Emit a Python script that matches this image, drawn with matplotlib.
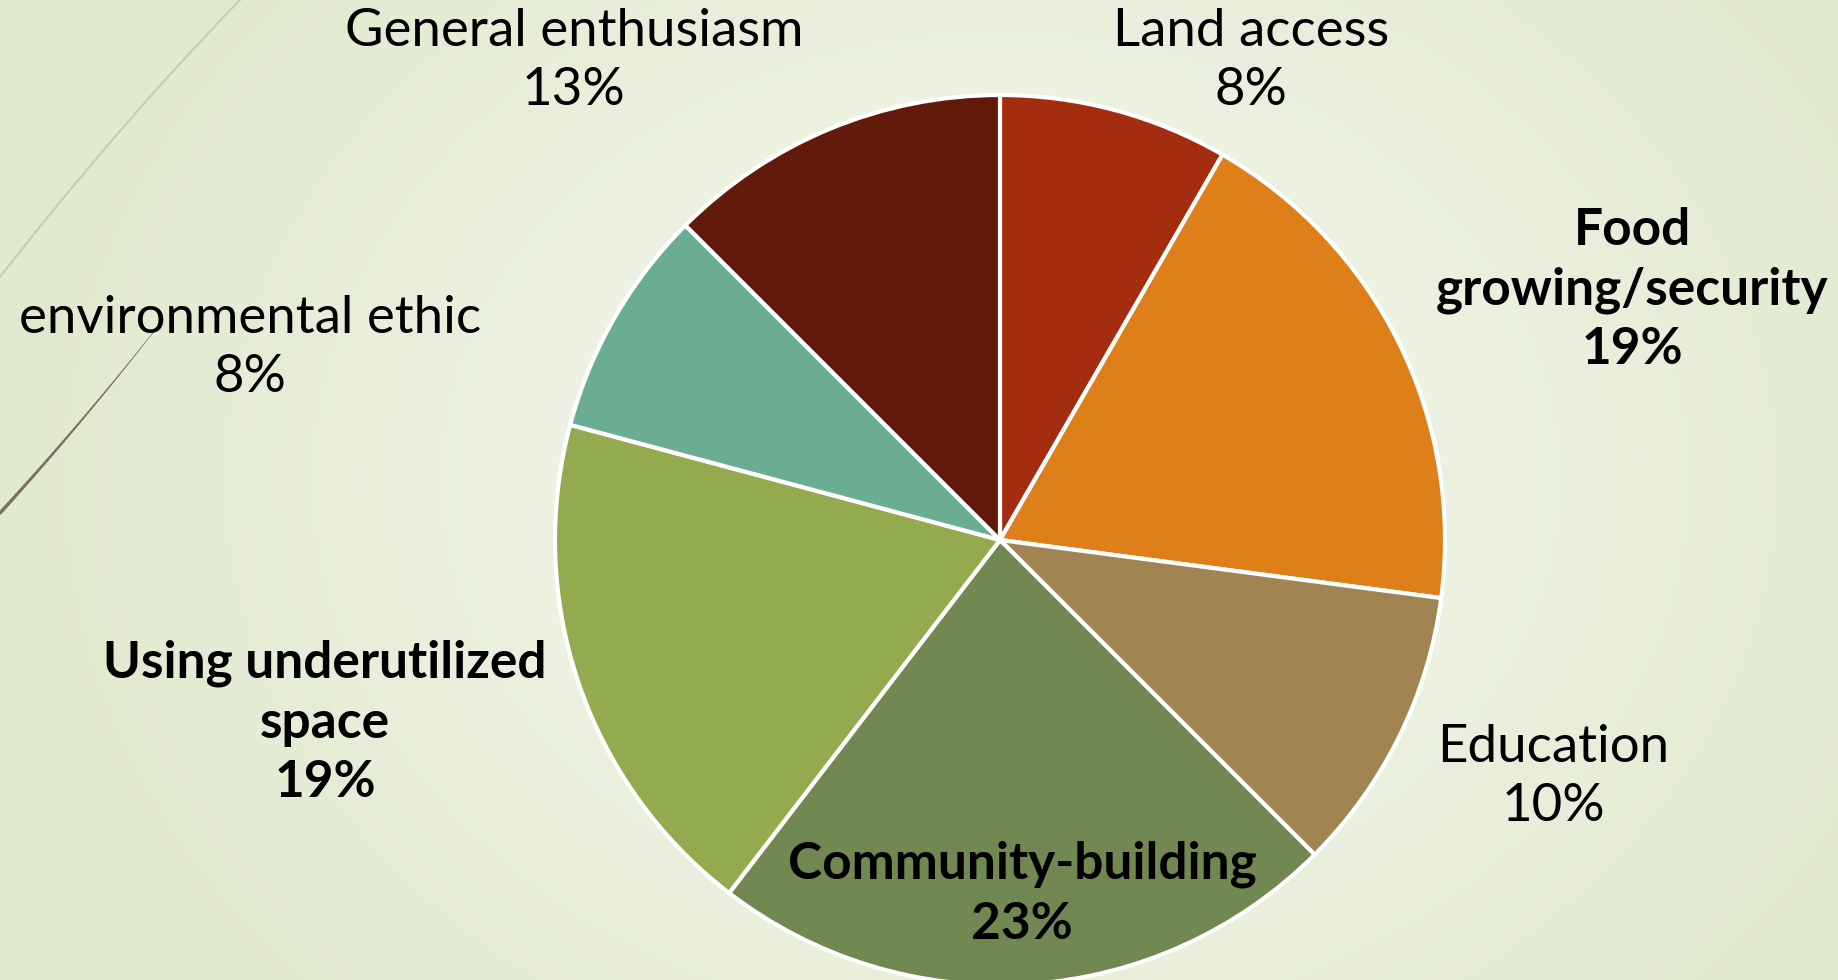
import matplotlib.pyplot as plt
import numpy as np
from matplotlib.colors import to_rgb

W, H = 1838, 980

categories = [
    "Land access",
    "Food\ngrowing/security",
    "Education",
    "Community-building",
    "Using underutilized\nspace",
    "environmental ethic",
    "General enthusiasm",
]
counts = [4, 9, 5, 11, 9, 4, 6]
pct_labels = ["8%", "19%", "10%", "23%", "19%", "8%", "13%"]
bold = [False, True, False, True, True, False, False]
colors = ["#A52D0F", "#DF7F19", "#A08451", "#718853", "#94AA4E", "#6AAD93", "#621B0B"]

# label block centres in image pixels (x, y from top)
label_pos = [
    (1251, 61),
    (1632, 290),
    (1553, 777),
    (1022, 894),
    (325, 723),
    (250, 348),
    (574, 61),
]

plt.rcParams["font.family"] = ["Lato", "DejaVu Sans"]

fig = plt.figure(figsize=(W / 100, H / 100), dpi=100)
ax = fig.add_axes([0, 0, 1, 1])

# soft radial background
yy, xx = np.mgrid[0:H, 0:W]
d = np.sqrt(((xx - 1000) / 1000.0) ** 2 + ((yy - 480) / 800.0) ** 2)
d = np.clip(d, 0, 1)[..., None]
c_in = np.array(to_rgb("#F7F9F2"))
c_out = np.array(to_rgb("#E1E9CE"))
bg = c_in * (1 - d) + c_out * d
ax.imshow(bg, extent=[0, W, 0, H], origin="upper", zorder=0, aspect="auto")

# decorative strokes on the left
t = np.linspace(0, 1, 60)
ax.plot(240 * t, H - (277 * (1 - t) - 30 * t * (1 - t)), color="#C9CDB8", lw=1.5, zorder=1)
x2 = 163 * (1 - t)
y2 = H - (320 + 193 * t + 15 * t * (1 - t))
for i in range(len(t) - 1):
    ax.plot(x2[i:i + 2], y2[i:i + 2], color="#7A7260", lw=0.3 + 2.2 * t[i],
            solid_capstyle="round", zorder=1)

ax.pie(
    counts,
    colors=colors,
    startangle=90,
    counterclock=False,
    center=(1000, H - 540),
    radius=445,
    wedgeprops=dict(edgecolor="white", linewidth=3),
    frame=True,
)
ax.set_xlim(0, W)
ax.set_ylim(0, H)
ax.set_aspect("auto")
ax.axis("off")

for cat, pct, b, (x, y) in zip(categories, pct_labels, bold, label_pos):
    ax.text(x, H - y, f"{cat}\n{pct}", ha="center", va="center",
            fontsize=37 if b else 38, fontweight="bold" if b else "normal",
            color="black", linespacing=1.33 if b else 1.3, zorder=5)

fig.savefig("out.png", dpi=100)
